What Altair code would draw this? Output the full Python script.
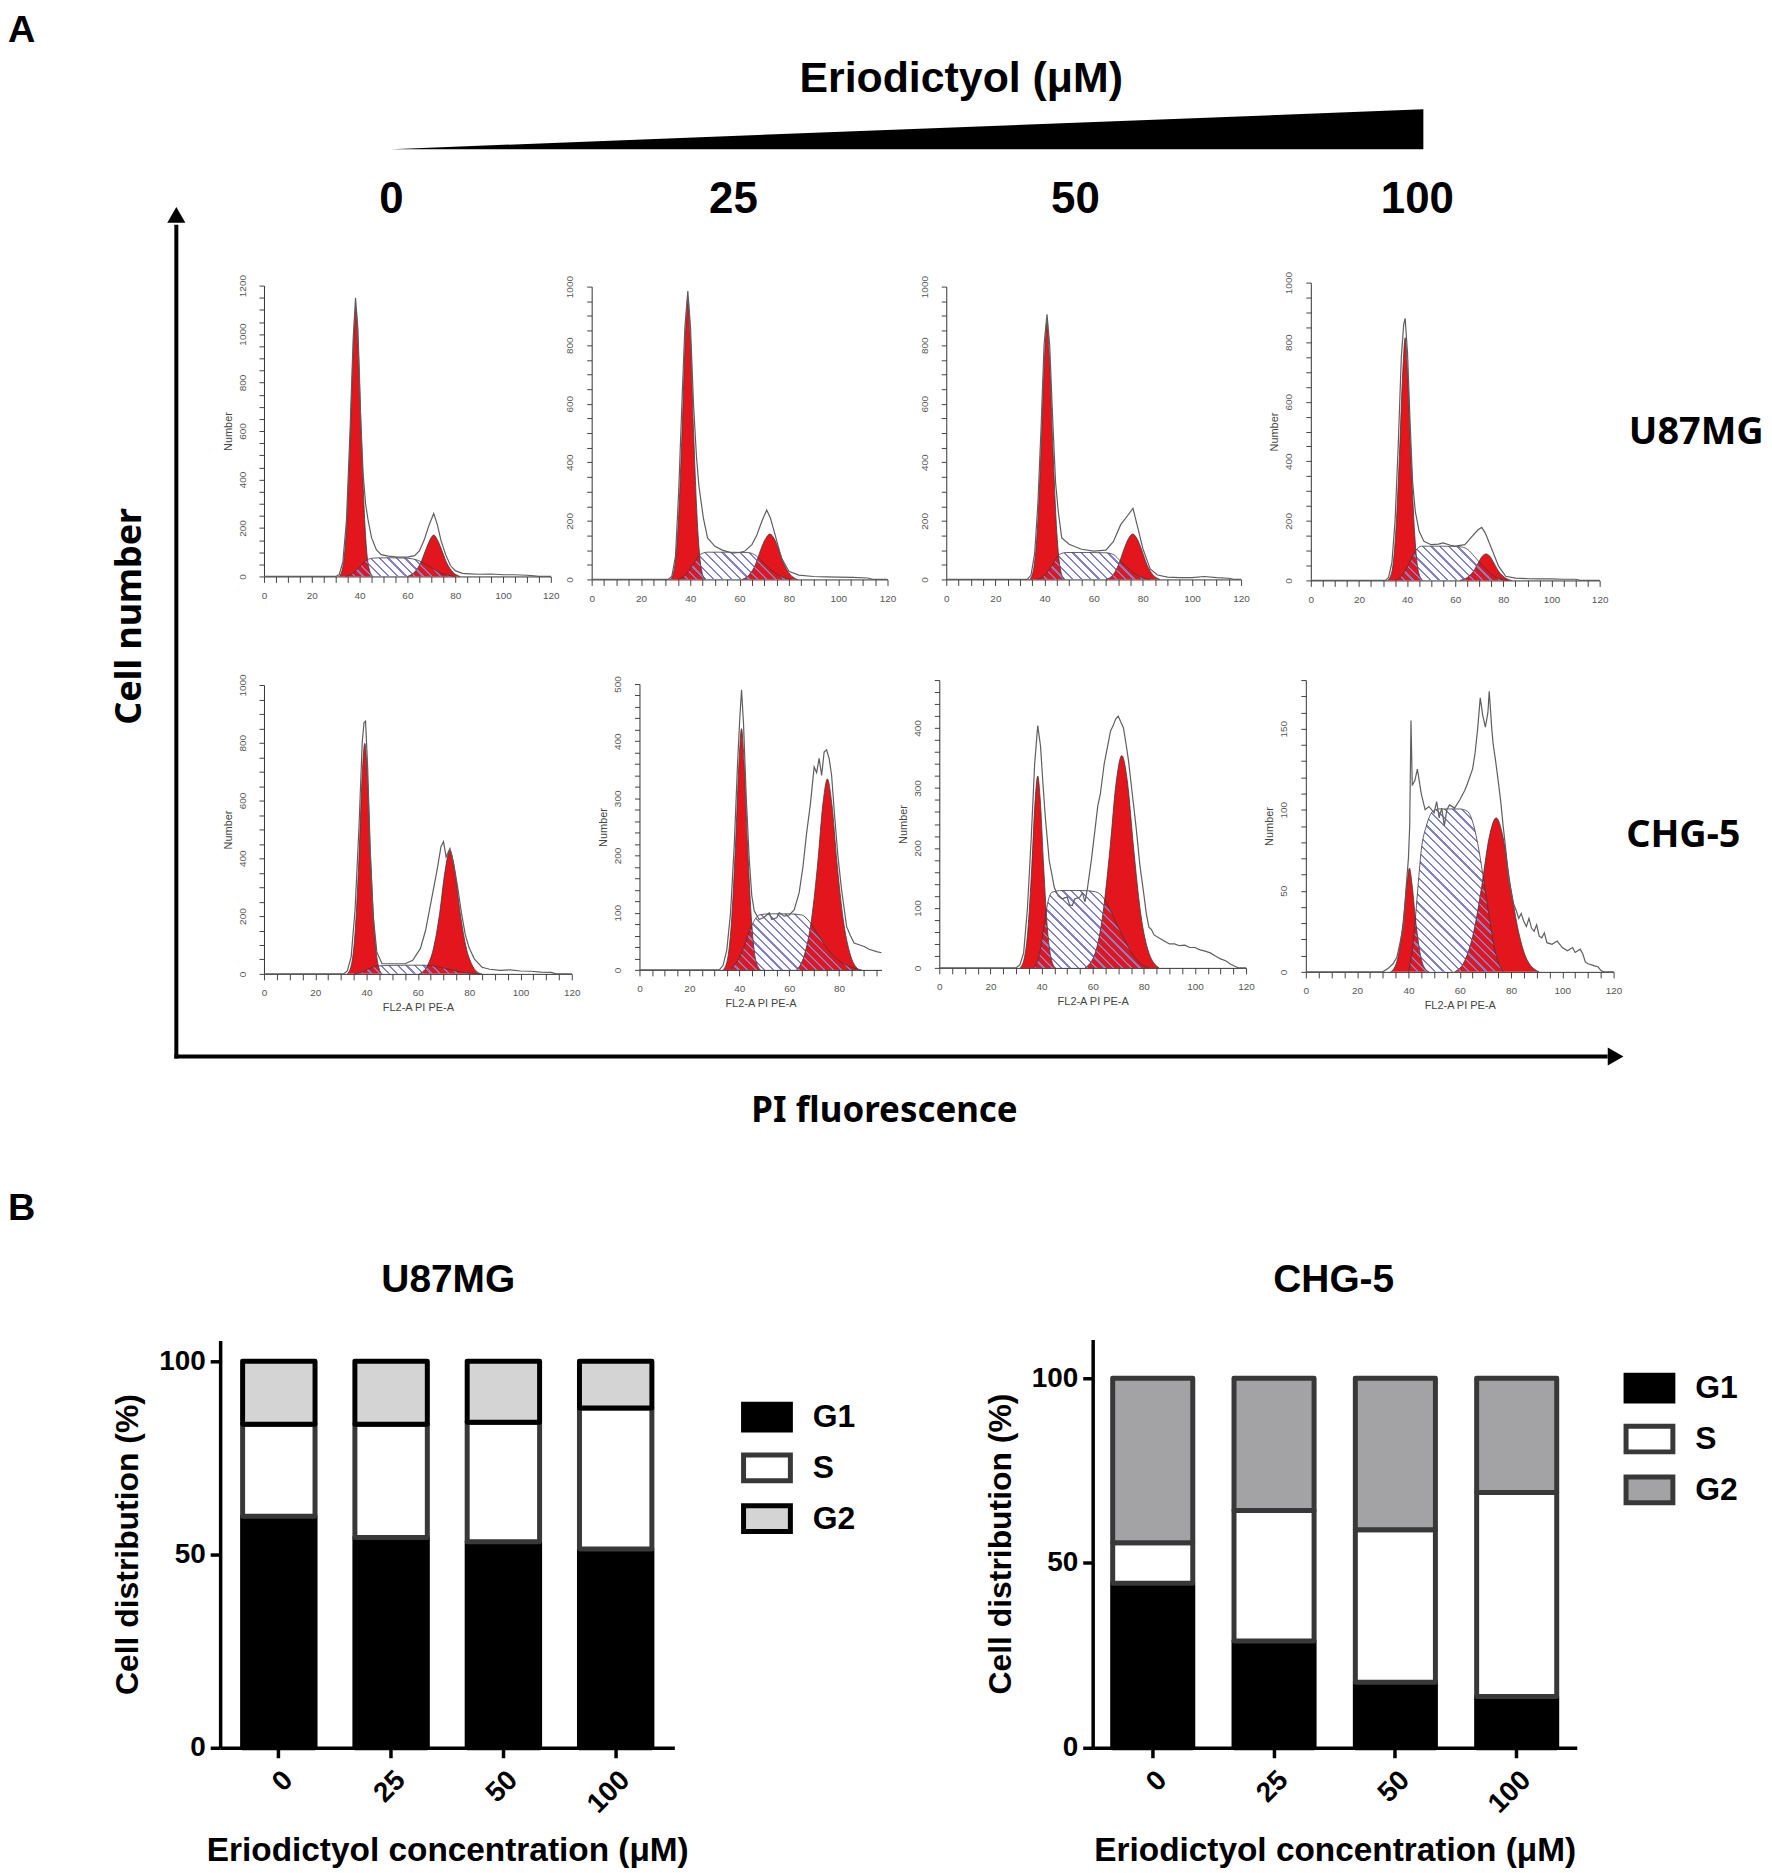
import math
import altair as alt
import pandas as pd

# ------------------------------------------------------------------ data
DOSES = ["0", "25", "50", "100"]
PHASES = ["G1", "S", "G2"]

# Panel B: cell-cycle distribution (%)
U87_G1 = [59.9, 54.4, 53.3, 51.4]
U87_S = [23.8, 29.3, 30.9, 36.5]
U87_G2 = [16.3, 16.3, 15.8, 12.1]
CHG_G1 = [44.5, 28.9, 17.7, 13.9]
CHG_S = [11.0, 35.3, 41.3, 55.2]
CHG_G2 = [44.5, 35.8, 41.0, 30.9]

# Panel A: flow-cytometry histograms, (PI fluorescence, cell number)
# --- U87MG, 0 uM
U0_G1 = [(31.5, 0), (33, 40), (34.5, 200), (36, 560), (37.4, 950), (38.4, 1110), (39.4, 950), (40.8, 560), (42.3, 200), (43.8, 40), (45.5, 0)]
U0_S = [(34, 0), (37, 12), (40, 40), (43, 68), (46, 76), (52, 77), (58, 76), (62, 73), (65, 64), (68, 48), (71, 30), (74, 14), (77, 5), (80, 0)]
U0_G2 = [(60, 0), (63, 18), (65.5, 55), (67.5, 105), (69.5, 152), (71, 171), (72.5, 152), (74.5, 105), (76.5, 55), (79, 18), (82, 0)]
U0_DATA = [(0, 0), (30, 0), (31.5, 8), (33, 60), (34.5, 230), (36, 600), (37.3, 980), (38.3, 1150), (39.3, 1020), (40.5, 640), (41.5, 420), (42.5, 300), (43.5, 235), (45, 160), (47, 110), (49, 90), (52, 84), (56, 80), (60, 80), (63, 86), (65, 105), (67, 150), (69, 210), (71, 260), (72.5, 215), (74, 150), (76, 90), (78, 45), (80, 24), (83, 13), (86, 11), (90, 9), (95, 10), (100, 7), (105, 7), (110, 5), (113, 2), (115, 0), (120, 0)]
# --- U87MG, 25 uM
U25_G1 = [(32, 0), (33.5, 35), (35, 175), (36.6, 490), (38, 830), (39, 960), (40, 830), (41.4, 490), (43, 175), (44.5, 35), (46, 0)]
U25_S = [(35, 0), (38, 15), (41, 50), (44, 85), (47, 93), (55, 93), (63, 92), (66, 85), (69, 62), (72, 38), (75, 18), (78, 6), (81, 0)]
U25_G2 = [(61, 0), (64, 17), (66.5, 52), (68.5, 100), (70.6, 140), (72.3, 155), (74, 140), (76, 100), (78, 52), (80.5, 17), (83.5, 0)]
U25_DATA = [(0, 0), (31, 0), (32.5, 10), (34, 80), (35.3, 300), (36.6, 600), (37.8, 860), (39, 985), (40.1, 860), (41.3, 600), (42.5, 420), (43.5, 320), (45.3, 210), (47, 142), (50, 113), (53, 100), (57, 90), (60, 92), (62, 96), (65, 119), (67, 152), (69, 198), (71, 237), (72.5, 210), (74, 165), (77, 73), (80, 28), (84, 15), (90, 10), (95, 9), (100, 8), (106, 7), (112, 5), (114, 0), (120, 0)]
# --- U87MG, 50 uM
U50_G1 = [(34, 0), (35.5, 33), (37, 160), (38.6, 450), (40, 760), (41, 880), (42, 760), (43.4, 450), (45, 160), (46.5, 33), (48, 0)]
U50_S = [(37, 0), (40, 14), (43, 48), (46, 85), (49, 92), (57, 92), (65, 91), (68, 85), (71, 62), (74, 38), (77, 18), (80, 6), (83, 0)]
U50_G2 = [(65, 0), (68, 17), (70.2, 52), (72.2, 100), (74.2, 140), (75.9, 155), (77.6, 140), (79.6, 100), (81.6, 52), (84, 17), (87, 0)]
U50_DATA = [(0, 0), (33, 0), (34.5, 15), (36, 90), (37.3, 260), (38.6, 520), (39.8, 800), (41, 905), (42.1, 800), (43.3, 550), (44.5, 330), (45.6, 231), (47, 142), (50, 120), (55, 103), (60, 97), (65, 100), (68, 129), (71, 187), (74, 220), (76, 243), (78, 175), (80, 106), (83, 36), (86, 15), (90, 8), (95, 6), (100, 6), (105, 10), (110, 6), (115, 4), (117, 0), (120, 0)]
# --- U87MG, 100 uM
U100_G1 = [(32, 0), (33.7, 30), (35.2, 150), (36.8, 415), (38.2, 700), (39.2, 815), (40.2, 700), (41.6, 415), (43.2, 150), (44.7, 30), (46.5, 0)]
U100_S = [(35, 0), (38, 18), (41, 60), (43.5, 100), (46, 115), (55, 115), (62, 113), (65, 105), (68, 80), (71, 52), (74, 28), (77, 10), (80, 2), (82, 0)]
U100_G2 = [(62, 0), (65, 10), (67.5, 30), (69.5, 58), (71.3, 82), (72.8, 89), (74.3, 82), (76.1, 58), (78.1, 30), (80.6, 10), (83.5, 0)]
U100_DATA = [(0, 0), (31, 0), (32.3, 10), (33.7, 60), (35, 200), (36.3, 450), (37.6, 750), (38.6, 860), (39.2, 880), (40.2, 760), (41.3, 520), (42.3, 330), (43.4, 232), (45, 165), (47, 131), (50, 120), (53, 122), (55, 126), (58, 118), (60, 115), (64, 120), (67, 148), (69.5, 170), (71, 178), (72.5, 159), (75, 109), (78, 48), (81, 14), (85, 8), (90, 6), (95, 5), (100, 5), (105, 4), (110, 4), (112, 0), (120, 0)]
# --- CHG-5, 0 uM
C0_G1 = [(32.5, 0), (34, 28), (35.5, 140), (37, 395), (38.3, 690), (39.3, 798), (40.3, 690), (41.6, 395), (43.1, 140), (44.6, 28), (46, 0)]
C0_S = [(35, 0), (38, 6), (41, 18), (44, 27), (48, 29), (56, 30), (62, 30), (66, 27), (70, 20), (74, 12), (78, 5), (82, 1), (85, 0)]
C0_G2 = [(60.5, 0), (63.5, 25), (66, 85), (68.5, 210), (70.5, 350), (72.5, 428), (74.5, 350), (76.5, 210), (79, 85), (81.5, 25), (84.5, 0)]
C0_DATA = [(0, 0), (31, 0), (32.5, 10), (34, 60), (35.5, 220), (37, 500), (38.3, 800), (39, 870), (39.6, 875), (40.4, 720), (41.4, 430), (42.6, 200), (44, 76), (46, 35), (50, 35), (55, 35), (58, 47), (61, 88), (63, 150), (64.5, 220), (66, 290), (67.5, 360), (69, 440), (70, 458), (71, 405), (72.5, 434), (74, 380), (75.5, 300), (77, 210), (78.5, 135), (80, 90), (82, 52), (85, 23), (88, 16), (92, 12), (96, 14), (100, 10), (104, 9), (108, 6), (112, 5), (114, 0), (120, 0)]
# --- CHG-5, 25 uM
C25_G1 = [(33.5, 0), (35.2, 17), (36.8, 80), (38.5, 220), (39.9, 365), (40.9, 422), (41.9, 365), (43.3, 220), (45, 80), (46.6, 17), (48.5, 0)]
C25_S = [(36, 0), (39, 14), (42, 42), (45, 78), (48, 96), (52, 98), (60, 98), (65, 96), (68, 85), (71, 65), (74, 45), (77, 28), (80, 16), (83, 8), (86, 3), (89, 0)]
C25_G2 = [(63, 0), (66, 25), (69, 90), (71.5, 190), (73.5, 290), (75.3, 334), (77.1, 290), (79.1, 190), (81.6, 90), (84.6, 25), (88, 0)]
C25_DATA = [(0, 0), (32, 0), (33.5, 8), (35, 35), (36.5, 100), (38, 220), (39.3, 360), (40.2, 440), (40.9, 490), (41.7, 430), (42.8, 300), (44, 193), (45, 130), (46, 103), (48, 88), (50, 92), (52, 100), (53, 88), (55, 91), (56, 100), (58, 94), (60, 96), (62, 105), (64, 135), (65.5, 180), (67, 240), (68.5, 290), (70, 355), (71, 345), (72, 370), (73, 340), (74, 381), (75, 385), (76, 370), (77, 340), (78, 281), (79.5, 200), (81, 140), (83, 76), (84.5, 60), (86, 47), (88, 44), (90, 41), (92, 36), (95, 32), (97, 30)]
# --- CHG-5, 50 uM
C50_G1 = [(31.5, 0), (33, 12), (34.6, 60), (36.2, 170), (37.5, 280), (38.5, 320), (39.5, 280), (40.8, 170), (42.4, 60), (44, 12), (45.5, 0)]
C50_S = [(37, 0), (39, 20), (41, 70), (42.5, 110), (44, 126), (48, 129), (56, 129), (61, 127), (64, 118), (67, 95), (70, 68), (73, 42), (76, 20), (79, 6), (82, 0)]
C50_G2 = [(57, 0), (61, 25), (64, 90), (66.8, 200), (69.2, 310), (71.4, 354), (73.6, 310), (76, 200), (78.8, 90), (82, 25), (86, 0)]
C50_DATA = [(0, 0), (30, 0), (31.5, 5), (33, 25), (34.5, 100), (36, 220), (37.3, 340), (38.5, 404), (39.6, 370), (40.5, 310), (41.5, 250), (43, 179), (45, 134), (46.5, 120), (48, 115), (50, 118), (51, 105), (52, 104), (53, 115), (55, 118), (56, 125), (57, 110), (58, 134), (59.5, 180), (61, 234), (62, 270), (63, 290), (64.5, 340), (66, 373), (67, 395), (68, 404), (69, 415), (70, 420), (71, 410), (72, 401), (73, 375), (74, 346), (75.5, 290), (77, 234), (78.5, 170), (80, 123), (81, 90), (82, 68), (83, 64), (84, 55), (86, 50), (88, 45), (90, 40), (92, 40), (94, 37), (96, 38), (98, 34), (100, 34), (102, 30), (104, 28), (106, 25), (108, 20), (110, 15), (112, 12), (114, 6), (116, 2), (117, 0), (120, 0)]
# --- CHG-5, 100 uM
C100_G1 = [(33, 0), (34.7, 3), (36.3, 12), (38, 32), (39.4, 54), (40.4, 64), (41.4, 54), (42.8, 32), (44.5, 12), (46.1, 3), (48, 0)]
C100_S = [(40, 0), (42, 20), (43.5, 48), (45, 75), (47, 90), (49.5, 99), (52, 100.5), (60, 100.5), (63, 99), (65.5, 90), (67.5, 75), (69.5, 55), (71.4, 35), (73.5, 15), (75.5, 4), (77, 0)]
C100_G2 = [(58, 0), (62, 7), (65.5, 25), (68.5, 52), (71.5, 83), (74.2, 95), (76.9, 83), (79.9, 52), (82.9, 25), (86.4, 7), (91, 0)]
C100_DATA = [(0, 0), (30, 0), (32, 2), (34, 5), (35.5, 9), (37, 20), (38, 28), (39, 50), (40, 70), (40.5, 90), (41, 155), (41.5, 115), (42.5, 118), (43.5, 125), (45, 110), (46.5, 100), (48, 102), (50, 98), (51, 105), (52, 95), (53, 101), (54, 90), (55, 100), (56, 103), (58, 101), (60, 106), (62, 112), (63, 116), (65, 125), (66, 135), (67, 150), (68, 169), (69, 158), (70, 151), (71, 160), (71.5, 173), (72.5, 150), (73, 141), (74, 130), (75, 118), (76, 105), (77, 89), (78, 75), (79, 58), (80, 50), (81, 42), (82, 38), (83, 33), (84, 36), (85, 31), (86, 28), (87, 33), (88, 27), (89, 25), (90, 29), (91, 22), (92, 21), (93, 24), (94, 18), (96, 17), (98, 19), (100, 15), (102, 13), (104, 15), (105, 12), (107, 14), (108, 11), (109, 6), (110, 5), (112, 4), (114, 3), (115, 1), (116, 0), (120, 0)]

# ------------------------------------------------------------------ styles / layout
W_TOT, H_TOT = 1756, 1862
RED = "#e2161c"
HATCH = "#8080cc"
CLEAR = "rgba(255,255,255,0)"
ARIAL = "Liberation Sans"
SANS = "Noto Sans"
DUMMY = pd.DataFrame({"k": [0]})


def pts(points):
    return pd.DataFrame(points, columns=["x", "y"])


def hatch_fill(W, H, period=6.2, frac=0.26):
    # diagonal stripes drawn as a sharp-stop linear gradient over the mark's bbox
    k = (W + H) / (W * W + H * H)
    n = max(1, int(round((W + H) / (math.sqrt(2) * period))))
    stops = []
    for i in range(n):
        a, b, c = i / n, (i + frac) / n, (i + 1) / n
        stops += [
            {"offset": a, "color": HATCH},
            {"offset": b, "color": HATCH},
            {"offset": b, "color": CLEAR},
            {"offset": c, "color": CLEAR},
        ]
    return {"gradient": "linear", "x1": 0, "y1": 1, "x2": k * W, "y2": 1 - k * H, "stops": stops}


def hist_panel(g1, s, g2, data, xmax, ymax, ystep, ylab, box, ytitle, xtitle):
    x0, x1, y0, y1 = box  # pixel position of x=0, x=xmax, y=0, y=ymax
    xs = alt.Scale(domain=[0, xmax], range=[x0, x1], nice=False, zero=False)
    ys = alt.Scale(domain=[0, ymax], range=[y0, y1], nice=False, zero=False)
    common = dict(
        labelFont=ARIAL, labelFontSize=10, labelColor="#555", tickColor="#444",
        domainColor="#333", grid=False, labelOverlap=False,
        labelFlush=False, titleFont=ARIAL, titleFontSize=11, format="d",
        titleFontWeight="normal", titleColor="#444",
    )
    xaxis = alt.Axis(
        orient="bottom", offset=y0 - H_TOT, tickSize=6,
        values=list(range(0, int(xmax) + 1, 5)),
        labelExpr="datum.value % 20 === 0 ? datum.label : ''",
        labelPadding=8, title=xtitle, titlePadding=4, **common,
    )
    yaxis = alt.Axis(
        orient="left", offset=-x0, tickSize=5,
        values=list(range(0, int(ymax) + 1, ystep)),
        labelExpr="datum.value % " + str(ylab) + " === 0 ? datum.label : ''",
        labelAngle=270, labelAlign="center", labelBaseline="bottom",
        labelPadding=12, title=ytitle, titlePadding=4, **common,
    )
    X = alt.X("x:Q", scale=xs, axis=xaxis)
    Y = alt.Y("y:Q", scale=ys, axis=yaxis)
    sx = [p[0] for p in s]
    Wpx = (max(sx) - min(sx)) / xmax * (x1 - x0)
    Hpx = max(p[1] for p in s) / ymax * (y0 - y1)
    layers = [
        alt.Chart(pts(g1)).mark_area(color=RED, opacity=1, interpolate="monotone").encode(x=X, y=Y),
        alt.Chart(pts(g2)).mark_area(color=RED, opacity=1, interpolate="monotone").encode(x=X, y=Y),
        alt.Chart(pts(s)).mark_area(fill=hatch_fill(Wpx, Hpx), opacity=1, interpolate="monotone").encode(x=X, y=Y),
    ]
    for comp in (g1, s, g2):
        layers.append(
            alt.Chart(pts(comp)).mark_line(color="#3a3a3a", strokeWidth=0.8, interpolate="monotone").encode(x=X, y=Y)
        )
    layers.append(alt.Chart(pts(data)).mark_line(color="#5e5e5e", strokeWidth=1.2).encode(x=X, y=Y))
    return alt.layer(*layers)


def label(text, x, y, size, font=ARIAL, angle=0, weight="bold", align="center", baseline="middle"):
    kw = dict(text=text, font=font, fontSize=size, fontWeight=weight, color="black",
              align=align, baseline=baseline)
    if angle:
        kw["angle"] = angle
    return alt.Chart(DUMMY).mark_text(**kw).encode(x=alt.value(x), y=alt.value(y))


LEG_SHAPE = "M-1,-0.55H1V0.55H-1Z"


def bar_panel(g1, s, g2, fills, strokes, ymax, box, pin, pout, lx, ly):
    x0, x1, y0, y1 = box
    rows = []
    for i, d in enumerate(DOSES):
        for j, vals in enumerate((g1, s, g2)):
            rows.append({"dose": d, "phase": PHASES[j], "value": vals[i], "ord": j})
    df = pd.DataFrame(rows)
    leg = alt.Legend(
        orient="none", legendX=lx, legendY=ly, title=None, padding=0,
        symbolType=LEG_SHAPE, symbolSize=2209, symbolStrokeWidth=5, symbolOpacity=1,
        labelFont=ARIAL, labelFontSize=32, labelFontWeight="bold", labelColor="black",
        labelOffset=20, rowPadding=2, labelBaseline="middle",
    )
    axstyle = dict(
        domainColor="black", domainWidth=3.5, tickColor="black", tickWidth=3.5, tickSize=10,
        labelFont=ARIAL, labelFontWeight="bold", labelColor="black", labelFontSize=28,
        titleFont=ARIAL, titleFontWeight="bold", titleColor="black", grid=False,
    )
    return (
        alt.Chart(df)
        .mark_bar(strokeWidth=5, strokeJoin="round", opacity=1)
        .encode(
            x=alt.X("dose:N", sort=DOSES,
                    scale=alt.Scale(domain=DOSES, range=[x0, x1], paddingInner=pin, paddingOuter=pout),
                    axis=alt.Axis(orient="bottom", offset=y0 - H_TOT,
                                  title="Eriodictyol concentration (μM)", labelAngle=315,
                                  labelPadding=8, titleFontSize=33.5, titlePadding=16, **axstyle)),
            y=alt.Y("value:Q", stack="zero",
                    scale=alt.Scale(domain=[0, ymax], range=[y0, y1], nice=False),
                    axis=alt.Axis(orient="left", offset=-x0, values=[0, 50, 100],
                                  title="Cell distribution (%)",
                                  labelPadding=5, titleFontSize=32, titlePadding=14, **axstyle)),
            fill=alt.Fill("phase:N", scale=alt.Scale(domain=PHASES, range=fills), legend=leg),
            stroke=alt.Stroke("phase:N", scale=alt.Scale(domain=PHASES, range=strokes), legend=leg),
            order=alt.Order("ord:Q"),
        )
    )


# ------------------------------------------------------------------ header (wedge + doses)
wedge_df = pd.DataFrame({"dose": [0, 100], "frac": [0, 1]})
dose_df = pd.DataFrame({"dose": DOSES})
wedge = alt.Chart(wedge_df).mark_area(color="black", opacity=1).encode(
    x=alt.X("dose:Q", scale=alt.Scale(domain=[0, 100], range=[385, 1421]), axis=None),
    y=alt.Y("frac:Q", scale=alt.Scale(domain=[0, 1], range=[138, 98]), axis=None),
    y2=alt.datum(0),
)
dose_txt = alt.Chart(dose_df).mark_text(font=ARIAL, fontSize=44, fontWeight="bold", color="black",
                                        baseline="middle").encode(
    x=alt.X("dose:N", sort=DOSES, scale=alt.Scale(type="point", domain=DOSES, range=[385, 1415], padding=0), axis=None),
    y=alt.value(189), text="dose:N",
)

# ------------------------------------------------------------------ histogram panels
panels = [
    hist_panel(U0_G1, U0_S, U0_G2, U0_DATA, 120, 1200, 50, 200, (257, 545, 567, 275), "Number", ""),
    hist_panel(U25_G1, U25_S, U25_G2, U25_DATA, 120, 1000, 50, 200, (586, 883, 570, 276), "", ""),
    hist_panel(U50_G1, U50_S, U50_G2, U50_DATA, 120, 1000, 50, 200, (942, 1238, 570, 276), "", ""),
    hist_panel(U100_G1, U100_S, U100_G2, U100_DATA, 120, 1000, 50, 200, (1308, 1598, 571, 272), "Number", ""),
    hist_panel(C0_G1, C0_S, C0_G2, C0_DATA, 120, 1000, 50, 200, (257, 566, 966, 676), "Number", "FL2-A PI PE-A"),
    hist_panel(C25_G1, C25_S, C25_G2, C25_DATA, 97, 500, 20, 100, (634, 877, 962, 675), "Number", "FL2-A PI PE-A"),
    hist_panel(C50_G1, C50_S, C50_G2, C50_DATA, 120, 480, 20, 100, (935, 1243, 960, 671), "Number", "FL2-A PI PE-A"),
    hist_panel(C100_G1, C100_S, C100_G2, C100_DATA, 120, 180, 10, 50, (1303, 1612, 964, 671), "Number", "FL2-A PI PE-A"),
]

# ------------------------------------------------------------------ annotations
notes = [
    label("A", 0, 0, 38, align="left", baseline="top"),
    label("Eriodictyol (μM)", 957, 68, 43),
    alt.Chart(DUMMY).mark_rule(color="black", strokeWidth=4).encode(
        x=alt.value(169), y=alt.value(1051), y2=alt.value(214)),
    alt.Chart(DUMMY).mark_point(shape="triangle-up", filled=True, color="black", size=330, opacity=1).encode(
        x=alt.value(169), y=alt.value(204)),
    alt.Chart(DUMMY).mark_rule(color="black", strokeWidth=4).encode(
        x=alt.value(167), x2=alt.value(1606), y=alt.value(1049)),
    alt.Chart(DUMMY).mark_point(shape="triangle-right", filled=True, color="black", size=330, opacity=1).encode(
        x=alt.value(1614), y=alt.value(1049)),
    label("Cell number", 123, 607, 36, font=SANS, angle=270),
    label("PI  fluorescence", 880, 1104, 35, font=SANS),
    label("U87MG", 1695, 423, 38, font=SANS),
    label("CHG-5", 1682, 828, 38, font=SANS),
    label("B", 0, 1202, 38, align="left"),
    label("U87MG", 442, 1273, 39),
    label("CHG-5", 1331, 1273, 39),
]

# ------------------------------------------------------------------ panel B
bars = [
    bar_panel(U87_G1, U87_S, U87_G2,
              ["#000000", "#ffffff", "#d4d4d4"], ["#000000", "#383838", "#000000"],
              105.4, (213, 669, 1743, 1334), 0.355, 0.2, 736, 1385),
    bar_panel(CHG_G1, CHG_S, CHG_G2,
              ["#000000", "#ffffff", "#a3a3a6"], ["#000000", "#383838", "#383838"],
              110.5, (1089, 1575, 1743, 1333), 0.34, 0.165, 1622, 1356),
]

chart = (
    alt.layer(wedge, dose_txt, *panels, *bars, *notes)
    .resolve_scale(x="independent", y="independent", fill="independent", stroke="independent")
    .resolve_legend(fill="independent", stroke="independent")
    .properties(width=W_TOT, height=H_TOT, padding=0)
    .configure_view(strokeWidth=0)
)

chart.save("out.html", embed_options={"renderer": "svg", "actions": False})
